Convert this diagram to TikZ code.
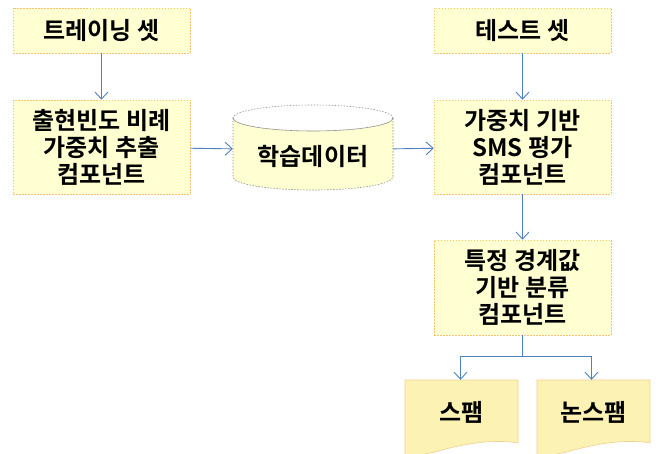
\documentclass[tikz,border=0pt]{standalone}
\usepackage{fontspec}
\setmainfont{Noto Sans CJK KR}[BoldFont={Noto Sans CJK KR Bold}]
\usetikzlibrary{arrows.meta}
\definecolor{boxfill}{HTML}{FFFFD2}
\definecolor{boxline}{HTML}{F2C46D}
\definecolor{docfill}{HTML}{FBF2B4}
\definecolor{docline}{HTML}{F0D090}
\definecolor{dbline}{HTML}{909090}
\definecolor{arr}{HTML}{4F81BD}
\tikzset{
  procbox/.style={draw=boxline, fill=boxfill, dashed, dash pattern=on 1.5pt off 1.5pt, line width=0.6pt,
    minimum width=177pt, align=center, font=\bfseries\fontsize{24}{27}\selectfont, inner sep=0pt},
  conn/.style={draw=arr, line width=0.9pt, -{Straight Barb[length=7pt,width=13pt,line width=0.9pt]}},
  lbl/.style={font=\bfseries\fontsize{24}{27}\selectfont, inner sep=0pt},
}
\begin{document}
\begin{tikzpicture}[x=1pt,y=-1pt]
\useasboundingbox (0,0) rectangle (656,454);
% boxes
\node[procbox, minimum height=45pt] (train) at (101.5,30.5) {트레이닝 셋};
\node[procbox, minimum height=94pt] (extract) at (101.5,147) {출현빈도 비례\\가중치 추출\\컴포넌트};
\node[procbox, minimum height=45pt] (test) at (522.5,30.5) {테스트 셋};
\node[procbox, minimum height=94pt] (sms) at (522.5,147) {가중치 기반\\SMS 평가\\컴포넌트};
\node[procbox, minimum height=95pt] (thr) at (522.5,287.5) {특정 경계값\\기반 분류\\컴포넌트};
% cylinder
\draw[draw=dbline, fill=boxfill, dashed, dash pattern=on 1.5pt off 1.5pt, line width=0.6pt]
  (233,118) -- (233,177) arc[start angle=180, end angle=0, x radius=80, y radius=13] -- (393,118)
  arc[start angle=0, end angle=180, x radius=80, y radius=13] -- cycle;
\draw[draw=dbline, dashed, dash pattern=on 1.5pt off 1.5pt, line width=0.6pt]
  (313,118) ellipse[x radius=80, y radius=13];
\node[minimum width=160pt, minimum height=60pt, inner sep=0pt] (db) at (313,150) {};
\node[lbl] (dbtext) at (313,156) {학습데이터};
% documents
\foreach \l/\nm/\tx in {405/spam/스팸, 537/ham/논스팸}{
  \draw[draw=docline, fill=docfill, line width=0.6pt]
    (\l,454) -- (\l,380) -- (\l+113,380) -- (\l+113,443)
    .. controls (\l+85,438) and (\l+50,446) .. (\l+30,452) -- (\l+20,454);
  \node[minimum width=113pt, minimum height=60pt, inner sep=0pt] (\nm) at (\l+56.5,410) {};
  \node[lbl] at (\l+56.5,412) {\tx};
}
% connectors
\path[conn] (train) -- (extract);
\path[conn] (test) -- (sms);
\path[conn] (sms) -- (thr);
\path[conn] (extract) -- (db);
\path[conn] (db) -- (sms);
\coordinate (split) at (522.5,356);
\draw[draw=arr, line width=0.9pt] (thr.south) -- (split);
\path[conn] (split) -| ([xshift=-1pt]spam.north);
\path[conn] (split) -| ([xshift=-2pt]ham.north);
\end{tikzpicture}
\end{document}
